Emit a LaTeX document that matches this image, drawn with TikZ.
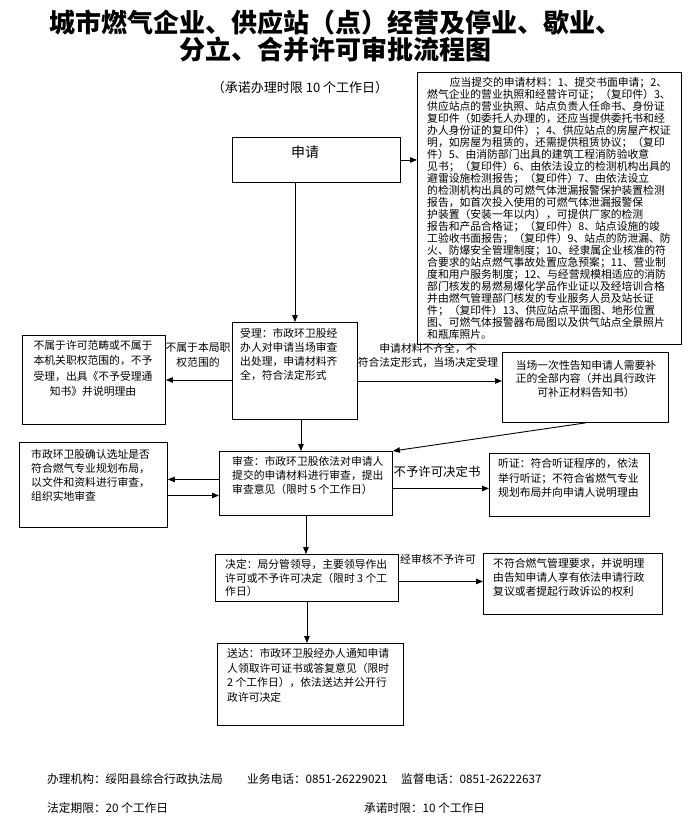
\documentclass[tikz,border=0pt]{standalone}
\usepackage{fontspec}
\setmainfont{Noto Sans CJK SC}
\usetikzlibrary{arrows.meta,positioning,calc}

\begin{document}
\begin{tikzpicture}[
    x=1pt, y=-1pt,
    box/.style={draw, rectangle, anchor=north west, inner sep=0pt, line width=0.9pt},
    txt/.style={anchor=north west, align=left, inner sep=0pt, font=\fontsize{10.8}{#1}\selectfont},
    txt/.default=14,
    ctxt/.style={align=center, inner sep=0pt, font=\fontsize{10.8}{#1}\selectfont},
    ctxt/.default=14,
    arr/.style={-{Triangle[length=7pt,width=5.5pt]}, line width=0.9pt},
    foot/.style={anchor=west, inner sep=0pt, font=\fontsize{11.7}{14}\selectfont}
]
    \useasboundingbox (0,0) rectangle (698,830);

    % Title
    \node [align=center, font=\fontsize{26}{27}\selectfont\bfseries] (title) at (335,36.5)
        {城市燃气企业、供应站（点）经营及停业、歇业、\\分立、合并许可审批流程图};
    \node [font=\fontsize{13}{15}\selectfont] (period) at (300,88) {（承诺办理时限 10 个工作日）};

    % Application and materials
    \node [box, minimum width=168, minimum height=45] (apply) at (232,137) {};
    \node [font=\fontsize{14}{16}\selectfont] (apply-txt) at (305,152) {申请};
    \node [box, minimum width=264, minimum height=272] (materials) at (417,72) {};
    \node [txt=12] (materials-txt) at (427,77.6) {\hspace*{2.1em}应当提交的申请材料：1、提交书面申请；2、\\
        燃气企业的营业执照和经营许可证；（复印件）3、\\
        供应站点的营业执照、站点负责人任命书、身份证\\
        复印件（如委托人办理的，还应当提供委托书和经\\
        办人身份证的复印件）；4、供应站点的房屋产权证\\
        明，如房屋为租赁的，还需提供租赁协议；（复印\\
        件）5、由消防部门出具的建筑工程消防验收意\\
        见书；（复印件）6、由依法设立的检测机构出具的\\
        避雷设施检测报告；（复印件）7、由依法设立\\
        的检测机构出具的可燃气体泄漏报警保护装置检测\\
        报告，如首次投入使用的可燃气体泄漏报警保\\
        护装置（安装一年以内），可提供厂家的检测\\
        报告和产品合格证；（复印件）8、站点设施的竣\\
        工验收书面报告；（复印件）9、站点的防泄漏、防\\
        火、防爆安全管理制度；10、经隶属企业核准的符\\
        合要求的站点燃气事故处置应急预案；11、营业制\\
        度和用户服务制度；12、与经营规模相适应的消防\\
        部门核发的易燃易爆化学品作业证以及经培训合格\\
        并由燃气管理部门核发的专业服务人员及站长证\\
        件；（复印件）13、供应站点平面图、地形位置\\
        图、可燃气体报警器布局图以及供气站点全景照片\\
        和瓶库照片。};

    % Acceptance row
    \node [box, minimum width=125, minimum height=97] (accept) at (232,322) {};
    \node [txt] (accept-txt) at (240,328.6) {受理：市政环卫股经\\办人对申请当场审查\\出处理，申请材料齐\\全，符合法定形式};
    \node [box, minimum width=143, minimum height=89] (reject) at (22,335) {};
    \node [ctxt=15.5] (reject-txt) at (93,368.25) {不属于许可范畴或不属于\\本机关职权范围的，不予\\受理，出具《不予受理通\\知书》并说明理由};
    \node [box, minimum width=166, minimum height=70] (supplement) at (502,352) {};
    \node [ctxt=13.5] (supplement-txt) at (586,378.5) {当场一次性告知申请人需要补\\正的全部内容（并出具行政许\\可补正材料告知书）};
    \node [ctxt=15] (reject-lbl) at (198,354.5) {不属于本局职\\权范围的};
    \node [ctxt=14] (supplement-lbl) at (428,355) {申请材料不齐全，不\\符合法定形式，当场决定受理};

    % Review row
    \node [box, minimum width=173, minimum height=64] (review) at (219,451) {};
    \node [txt] (review-txt) at (232,456.6) {审查：市政环卫股依法对申请人\\提交的申请材料进行审查，提出\\审查意见（限时 5 个工作日）};
    \node [box, minimum width=148, minimum height=85] (site) at (19,442) {};
    \node [txt] (site-txt) at (31,449.6) {市政环卫股确认选址是否\\符合燃气专业规划布局，\\以文件和资料进行审查，\\组织实地审查};
    \node [box, minimum width=160, minimum height=63] (hearing) at (489,453) {};
    \node [txt=14.5] (hearing-txt) at (498,458.6) {听证：符合听证程序的，依法\\举行听证；不符合省燃气专业\\规划布局并向申请人说明理由};
    \node [inner sep=0pt, font=\fontsize{12.4}{14}\selectfont] (refuse-lbl) at (437,472) {不予许可决定书};

    % Decision and delivery
    \node [box, minimum width=183, minimum height=47] (decision) at (215,554) {};
    \node [txt=13.5] (decision-txt) at (225,559.6) {决定：局分管领导，主要领导作出\\许可或不予许可决定（限时 3 个工\\作日）};
    \node [box, minimum width=179, minimum height=61] (deny) at (483,553) {};
    \node [txt] (deny-txt) at (493,558.6) {不符合燃气管理要求，并说明理\\由告知申请人享有依法申请行政\\复议或者提起行政诉讼的权利};
    \node [ctxt] (deny-lbl) at (438,559) {经审核不予许可};
    \node [box, minimum width=186, minimum height=82] (deliver) at (217,643) {};
    \node [txt=14.5] (deliver-txt) at (227,648.6) {送达：市政环卫股经办人通知申请\\人领取许可证书或答复意见（限时\\2 个工作日），依法送达并公开行\\政许可决定};

    % Connectors
    \draw [arr] (apply.east) -- (apply.east -| materials.west);
    \draw [arr] (accept.north |- apply.south) -- (accept.north);
    \draw [arr] (accept.west |- reject.east) -- (reject.east);
    \draw [arr] ([yshift=-10pt]accept.east) -- ([yshift=-10pt]accept.east -| supplement.west);
    \draw [arr] ([xshift=6pt]accept.south) -- ([xshift=6pt]accept.south |- review.north);
    \draw [arr] (supplement.south) -- (review.north east);
    \draw [arr] ([yshift=4pt]review.west) -- ([yshift=4pt]review.west -| site.east);
    \draw [arr] ([yshift=-10.5pt]site.east) -- ([yshift=-10.5pt]site.east -| review.west);
    \draw [arr] ([yshift=-5pt]review.east) -- ([yshift=-5pt]review.east -| hearing.west);
    \draw [arr] (review.south) -- (review.south |- decision.north);
    \draw [arr] ([yshift=-3.5pt]decision.east) -- ([yshift=-3.5pt]decision.east -| deny.west);
    \draw [arr] (decision.south) -- (decision.south |- deliver.north);

    % Footer
    \foreach \i/\x/\y/\txt in {1/47/779/办理机构：绥阳县综合行政执法局, 2/247/779/业务电话：0851-26229021,
        3/401/779/监督电话：0851-26222637, 4/47/808/法定期限：20 个工作日, 5/364/808/承诺时限：10 个工作日} {
        \node [foot] (foot\i) at (\x,\y) {\txt};
    }
\end{tikzpicture}
\end{document}
